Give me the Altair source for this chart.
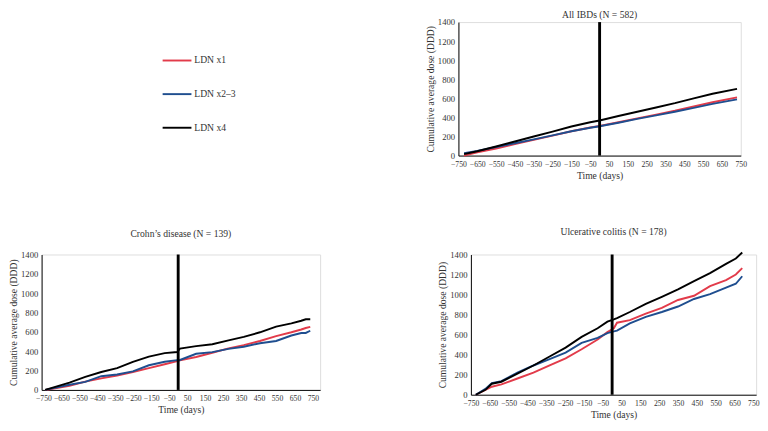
import altair as alt
import pandas as pd

FONT = "Liberation Serif, Times New Roman, serif"
TXT = "#333333"

series = ["LDN x1", "LDN x2–3", "LDN x4"]
colors = ["#e23b4a", "#1f4e8f", "#000000"]

x_ticks = list(range(-750, 751, 100))
y_ticks = list(range(0, 1401, 200))
event_day = [0]
y_span = [0, 1400]

# All IBDs (N = 582)
days_all = [-720, -650, -550, -450, -350, -250, -150, -50, 0, 100, 200, 300, 400, 500, 600, 730]
all_x1 = [0, 35, 75, 120, 165, 210, 255, 295, 310, 350, 390, 430, 470, 515, 560, 610]
all_x23 = [25, 50, 90, 130, 170, 212, 255, 292, 308, 345, 385, 422, 460, 500, 542, 590]
all_x4 = [15, 45, 95, 148, 200, 252, 305, 350, 368, 415, 460, 505, 550, 600, 648, 700]

# Crohn's disease (N = 139)
days_cd = [-740, -605, -517, -428, -340, -252, -163, -75, -5, 10, 100, 190, 280, 365, 455, 545, 630, 685, 710, 735]
cd_x1 = [0, 43, 86, 119, 149, 185, 225, 265, 298, 305, 341, 384, 430, 463, 506, 556, 596, 625, 640, 652]
cd_x23 = [0, 53, 83, 142, 159, 192, 255, 291, 308, 310, 374, 391, 424, 447, 483, 506, 563, 589, 589, 612]
cd_x4 = [0, 76, 135, 185, 225, 291, 345, 381, 392, 428, 453, 473, 513, 549, 596, 655, 688, 715, 731, 731]

# Ulcerative colitis (N = 178)
days_uc = [-724, -673, -639, -588, -503, -418, -332, -247, -162, -77, -25, 9, 26, 94, 179, 264, 350, 435, 520, 605, 657, 691]
uc_x1 = [0, 49, 80, 104, 162, 220, 292, 363, 454, 551, 625, 664, 719, 745, 810, 868, 946, 988, 1085, 1144, 1200, 1264]
uc_x23 = [0, 58, 117, 136, 220, 292, 356, 421, 518, 567, 616, 632, 640, 713, 778, 826, 881, 956, 1004, 1069, 1108, 1183]
uc_x4 = [0, 49, 110, 130, 211, 292, 382, 470, 577, 664, 729, 752, 765, 826, 907, 978, 1053, 1134, 1215, 1306, 1360, 1420]

color_scale = alt.Scale(domain=series, range=colors)


def long(days, a, b, c):
    rows = []
    for s, vals in zip(series, [a, b, c]):
        for d, v in zip(days, vals):
            rows.append({"day": d, "dose": v, "group": s})
    return pd.DataFrame(rows)


def panel(df, title, xdomain, width, height, title_offset):
    xaxis = alt.Axis(values=x_ticks, title="Time (days)", grid=False, ticks=False,
                     labelOverlap=False, labelFlush=False, labelFontSize=8, labelPadding=5,
                     labelColor=TXT, titleFontSize=10, titleFontWeight="normal",
                     titleColor=TXT, titlePadding=3, domainColor="black", labelFont=FONT,
                     titleFont=FONT, format="d")
    yaxis = alt.Axis(values=y_ticks, title="Cumulative average dose (DDD)", grid=False,
                     ticks=False, labelFontSize=9, labelPadding=4, labelColor=TXT,
                     labelFlush=False, titleFontSize=10, titleFontWeight="normal",
                     titleColor=TXT, titlePadding=2, domainColor="black", labelFont=FONT,
                     titleFont=FONT, format="d")
    xs = alt.Scale(domain=xdomain, nice=False, zero=False)
    ys = alt.Scale(domain=[0, 1400], nice=False)
    lines = alt.Chart(df).mark_line(strokeWidth=2).encode(
        x=alt.X("day:Q", scale=xs, axis=xaxis),
        y=alt.Y("dose:Q", scale=ys, axis=yaxis),
        color=alt.Color("group:N", scale=color_scale, legend=None),
        detail="group:N",
    )
    ev = pd.DataFrame({"day": event_day, "lo": [y_span[0]], "hi": [y_span[1]]})
    rule = alt.Chart(ev).mark_rule(color="black", strokeWidth=3).encode(
        x=alt.X("day:Q", scale=xs, axis=xaxis),
        y=alt.Y("lo:Q", scale=ys, axis=yaxis),
        y2="hi:Q",
    )
    return alt.layer(lines, rule).properties(
        width=width, height=height,
        title=alt.TitleParams(title, fontSize=10, font=FONT, fontWeight="normal",
                              color=TXT, offset=title_offset),
    )


legend = alt.Legend(orient="none", legendX=125, legendY=24, title=None,
                    symbolType="stroke", symbolSize=900, symbolStrokeWidth=2,
                    symbolOpacity=1, rowPadding=14, labelFontSize=10, labelFont=FONT,
                    labelOffset=2, labelColor=TXT)

key = alt.Chart(pd.DataFrame({"group": series})).mark_point(opacity=0, shape="stroke").encode(
    color=alt.Color("group:N", scale=color_scale, legend=legend),
).properties(width=250, height=139)

all_chart = panel(long(days_all, all_x1, all_x23, all_x4), "All IBDs (N = 582)",
                  [-750, 750], 294, 139, -2)
cd_chart = panel(long(days_cd, cd_x1, cd_x23, cd_x4), "Crohn’s disease (N = 139)",
                 [-760, 790], 290, 141, 12)
uc_chart = panel(long(days_uc, uc_x1, uc_x23, uc_x4), "Ulcerative colitis (N = 178)",
                 [-750, 765], 297, 146, 12)

top = alt.hconcat(key, all_chart, spacing=149).resolve_scale(color="independent").resolve_legend(color="independent")
bottom = alt.hconcat(cd_chart, uc_chart, spacing=121)
chart = alt.vconcat(top, bottom, spacing=47).resolve_scale(
    color="independent").resolve_legend(color="independent").properties(
    padding={"left": 0, "top": -7, "right": 0, "bottom": 0},
    autosize=alt.AutoSizeParams(type="pad")).configure_view(stroke=None).configure(font=FONT)

chart.save("out.html", embed_options={"renderer": "svg", "actions": False})
